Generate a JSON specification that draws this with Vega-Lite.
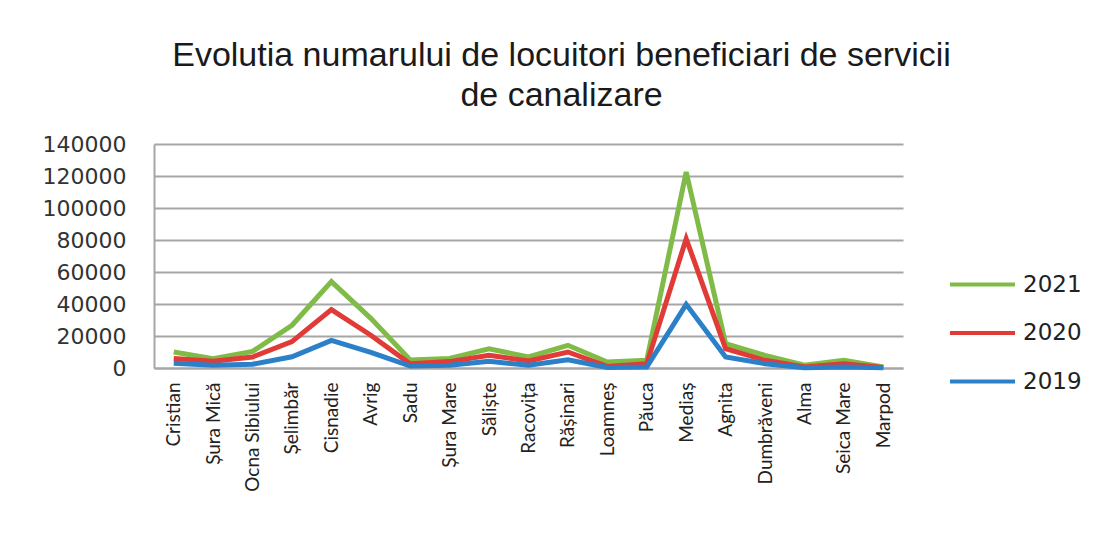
{
  "$schema": "https://vega.github.io/schema/vega-lite/v6.json",
  "autosize": {"type": "none"},
  "width": 749,
  "height": 224,
  "padding": {"left": 154, "top": 144, "right": 198, "bottom": 172},
  "background": "white",
  "title": {
    "text": ["Evolutia numarului  de locuitori beneficiari de servicii", "de canalizare"],
    "font": "Liberation Sans",
    "fontSize": 34,
    "fontWeight": "normal",
    "color": "#1a1a1a",
    "lineHeight": 40,
    "anchor": "middle",
    "dx": 33,
    "offset": 20
  },
  "data": {
    "values": [
      {"loc": "Cristian", "year": "2021", "v": 10000},
      {"loc": "Cristian", "year": "2020", "v": 6000},
      {"loc": "Cristian", "year": "2019", "v": 3000},
      {"loc": "Șura Mică", "year": "2021", "v": 5800},
      {"loc": "Șura Mică", "year": "2020", "v": 4200},
      {"loc": "Șura Mică", "year": "2019", "v": 1700},
      {"loc": "Ocna Sibiului", "year": "2021", "v": 10400},
      {"loc": "Ocna Sibiului", "year": "2020", "v": 6900},
      {"loc": "Ocna Sibiului", "year": "2019", "v": 2300},
      {"loc": "Șelimbăr", "year": "2021", "v": 26700},
      {"loc": "Șelimbăr", "year": "2020", "v": 16500},
      {"loc": "Șelimbăr", "year": "2019", "v": 7000},
      {"loc": "Cisnadie", "year": "2021", "v": 54000},
      {"loc": "Cisnadie", "year": "2020", "v": 36500},
      {"loc": "Cisnadie", "year": "2019", "v": 17300},
      {"loc": "Avrig", "year": "2021", "v": 31000},
      {"loc": "Avrig", "year": "2020", "v": 20500},
      {"loc": "Avrig", "year": "2019", "v": 9800},
      {"loc": "Sadu", "year": "2021", "v": 5000},
      {"loc": "Sadu", "year": "2020", "v": 2600},
      {"loc": "Sadu", "year": "2019", "v": 1200},
      {"loc": "Șura Mare", "year": "2021", "v": 6000},
      {"loc": "Șura Mare", "year": "2020", "v": 4000},
      {"loc": "Șura Mare", "year": "2019", "v": 1700},
      {"loc": "Săliște", "year": "2021", "v": 12000},
      {"loc": "Săliște", "year": "2020", "v": 8000},
      {"loc": "Săliște", "year": "2019", "v": 4200},
      {"loc": "Racovița", "year": "2021", "v": 6900},
      {"loc": "Racovița", "year": "2020", "v": 4400},
      {"loc": "Racovița", "year": "2019", "v": 1700},
      {"loc": "Rășinari", "year": "2021", "v": 14200},
      {"loc": "Rășinari", "year": "2020", "v": 10000},
      {"loc": "Rășinari", "year": "2019", "v": 5200},
      {"loc": "Loamneș", "year": "2021", "v": 3700},
      {"loc": "Loamneș", "year": "2020", "v": 1000},
      {"loc": "Loamneș", "year": "2019", "v": 300},
      {"loc": "Păuca", "year": "2021", "v": 4800},
      {"loc": "Păuca", "year": "2020", "v": 2700},
      {"loc": "Păuca", "year": "2019", "v": 600},
      {"loc": "Mediaș", "year": "2021", "v": 122500},
      {"loc": "Mediaș", "year": "2020", "v": 80800},
      {"loc": "Mediaș", "year": "2019", "v": 39800},
      {"loc": "Agnita", "year": "2021", "v": 15200},
      {"loc": "Agnita", "year": "2020", "v": 12100},
      {"loc": "Agnita", "year": "2019", "v": 6900},
      {"loc": "Dumbrăveni", "year": "2021", "v": 7900},
      {"loc": "Dumbrăveni", "year": "2020", "v": 4800},
      {"loc": "Dumbrăveni", "year": "2019", "v": 2700},
      {"loc": "Alma", "year": "2021", "v": 1700},
      {"loc": "Alma", "year": "2020", "v": 600},
      {"loc": "Alma", "year": "2019", "v": 200},
      {"loc": "Seica Mare", "year": "2021", "v": 4800},
      {"loc": "Seica Mare", "year": "2020", "v": 2700},
      {"loc": "Seica Mare", "year": "2019", "v": 600},
      {"loc": "Marpod", "year": "2021", "v": 600},
      {"loc": "Marpod", "year": "2020", "v": 300},
      {"loc": "Marpod", "year": "2019", "v": 100}
    ]
  },
  "mark": {"type": "line", "strokeWidth": 5, "strokeJoin": "miter"},
  "encoding": {
    "x": {
      "field": "loc",
      "type": "nominal",
      "sort": null,
      "scale": {"paddingInner": 0, "paddingOuter": 0.5},
      "axis": {
        "title": null,
        "labelAngle": -90,
        "labelFont": "Lato",
        "labelFontSize": 19,
        "labelColor": "#222222",
        "labelPadding": 14,
        "ticks": false,
        "domainColor": "#a6a6a6",
        "domainWidth": 2,
        "grid": false
      }
    },
    "y": {
      "field": "v",
      "type": "quantitative",
      "stack": null,
      "scale": {"domain": [0, 140000], "nice": false},
      "axis": {
        "title": null,
        "values": [0, 20000, 40000, 60000, 80000, 100000, 120000, 140000],
        "format": "d",
        "labelFont": "DejaVu Sans",
        "labelFontSize": 22,
        "labelColor": "#333333",
        "labelPadding": 28,
        "ticks": false,
        "domainColor": "#a6a6a6",
        "domainWidth": 2,
        "gridColor": "#a6a6a6",
        "gridWidth": 2
      }
    },
    "color": {
      "field": "year",
      "type": "nominal",
      "scale": {"domain": ["2021", "2020", "2019"], "range": ["#7fbb46", "#e03b36", "#2c80c8"]},
      "legend": {
        "title": null,
        "orient": "none",
        "legendX": 794,
        "legendY": 106,
        "symbolType": "stroke",
        "symbolSize": 4225,
        "symbolStrokeWidth": 4,
        "rowPadding": 1.5,
        "labelFont": "DejaVu Sans",
        "labelFontSize": 23,
        "labelColor": "#222222",
        "labelOffset": 6
      }
    }
  },
  "config": {"view": {"stroke": null}}
}
